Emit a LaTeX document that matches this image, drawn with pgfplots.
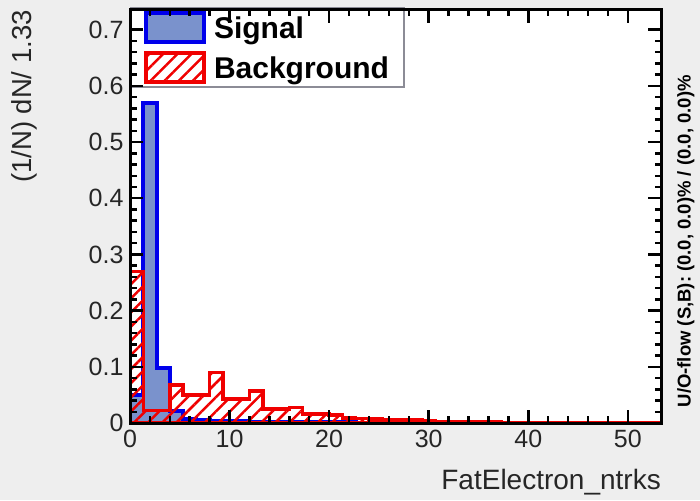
\documentclass[border=0pt]{standalone}
\usepackage{pgfplots}
\pgfplotsset{compat=1.18}
\usepackage{pgfplotstable}
\usetikzlibrary{patterns.meta}
\usepackage{fontspec}
\setmainfont{Liberation Sans}
\definecolor{bggrey}{RGB}{238,238,238}
\definecolor{sigfill}{RGB}{122,146,204}
\definecolor{sigblue}{RGB}{0,0,235}
\definecolor{bkgred}{RGB}{240,0,0}
\definecolor{legframe}{RGB}{140,140,150}

\pgfplotstableread{
x y
0 0.05
1.3333 0.57
2.6667 0.097
4 0.022
5.3333 0.008
6.6667 0.005
8 0.004
9.3333 0.003
10.6667 0.003
12 0.002
13.3333 0.002
14.6667 0.002
16 0.0015
17.3333 0.0015
18.6667 0.001
20 0.001
21.3333 0.001
22.6667 0.0008
24 0.0006
25.3333 0.0005
26.6667 0.0004
28 0.0003
29.3333 0.0002
30.6667 0.0002
32 0.0001
33.3333 0
34.6667 0
36 0
37.3333 0
38.6667 0
40 0
41.3333 0
42.6667 0
44 0
45.3333 0
46.6667 0
48 0
49.3333 0
50.6667 0
52 0
53.3333 0
}\sigtable

\pgfplotstableread{
x y
0 0.27
1.3333 0.022
2.6667 0.022
4 0.068
5.3333 0.05
6.6667 0.05
8 0.09
9.3333 0.043
10.6667 0.043
12 0.057
13.3333 0.025
14.6667 0.025
16 0.028
17.3333 0.016
18.6667 0.016
20 0.014
21.3333 0.009
22.6667 0.008
24 0.007
25.3333 0.006
26.6667 0.005
28 0.005
29.3333 0.004
30.6667 0.003
32 0.003
33.3333 0.002
34.6667 0.002
36 0.002
37.3333 0.001
38.6667 0.001
40 0.001
41.3333 0.001
42.6667 0.001
44 0.0008
45.3333 0.0005
46.6667 0.0005
48 0.0003
49.3333 0.0002
50.6667 0.0001
52 0.0001
53.3333 0.0001
}\bkgtable

\begin{document}
\begin{tikzpicture}
\useasboundingbox (0,0) rectangle (700pt,500pt);
\fill[bggrey] (0,0) rectangle (700pt,500pt);
\clip (0,0) rectangle (700pt,500pt);
\fill[white] (130pt,77pt) rectangle (661pt,490pt);
\begin{axis}[
  at={(130pt,77pt)}, anchor=south west,
  width=531pt, height=413pt, scale only axis,
  xmin=0, xmax=53.3333, ymin=0, ymax=0.735,
  hide axis, clip=true,
  legend cell align=left,
  legend style={at={(axis description cs:0,0.811)}, anchor=south west,
    draw=legframe, line width=2pt, fill=white,
    inner xsep=13pt, inner ysep=3pt, row sep=7pt,
    font=\bfseries\fontsize{30}{30}\selectfont,
    nodes={inner sep=2pt},
    /tikz/every odd column/.append style={column sep=6pt}},
]
\addplot[const plot, draw=sigblue, line width=4pt, fill=sigfill,
  legend image code/.code={\draw[draw=sigblue, line width=4pt, fill=sigfill] (0pt,-14pt) rectangle (58pt,15pt);}]
  table[x=x,y=y] {\sigtable} \closedcycle;
\addlegendentry{Signal}
\addplot[const plot, draw=bkgred, line width=3.5pt,
  pattern={Lines[angle=45,distance=10pt,line width=2.5pt]}, pattern color=bkgred,
  legend image code/.code={\draw[draw=bkgred, line width=4pt, pattern={Lines[angle=45,distance=10pt,line width=2.5pt]}, pattern color=bkgred] (0pt,-14pt) rectangle (58pt,15pt);}]
  table[x=x,y=y] {\bkgtable} \closedcycle;
\addlegendentry{Background}
\end{axis}
\begin{axis}[
  at={(130pt,77pt)}, anchor=south west,
  width=531pt, height=413pt, scale only axis,
  xmin=0, xmax=53.3333, ymin=0, ymax=0.735,
  clip=false,
  axis line style={line width=3pt, black},
  tick align=inside,
  major tick length=13pt, minor tick length=6.5pt,
  every tick/.append style={line width=2.5pt, black},
  xtick={0,10,20,30,40,50},
  ytick={0,0.1,0.2,0.3,0.4,0.5,0.6,0.7},
  minor x tick num=4, minor y tick num=4,
  /pgf/number format/assume math mode=true,
  /pgf/number format/fixed,
  ticklabel style={font=\fontsize{25}{25}\selectfont, text=black!85},
  xticklabel style={yshift=-4pt},
  yticklabel style={xshift=-3pt},
  xlabel={FatElectron\_ntrks},
  xlabel style={at={(axis description cs:1,-0.162)}, anchor=base east, inner sep=0pt,
    font=\fontsize{28}{28}\selectfont, text=black!85},
  ylabel={(1/N) dN/ 1.33},
  ylabel style={at={(axis description cs:-0.198,1)}, anchor=east, inner sep=0pt, rotate=0,
    font=\fontsize{27.5}{27.5}\selectfont, text=black!85},
]
\node[rotate=90, anchor=center, inner sep=0pt, font=\bfseries\fontsize{18.5}{18.5}\selectfont]
  at (axis description cs:1.047,0.44) {U/O-flow (S,B): (0.0, 0.0)\% / (0.0, 0.0)\%};
\end{axis}
\end{tikzpicture}
\end{document}
